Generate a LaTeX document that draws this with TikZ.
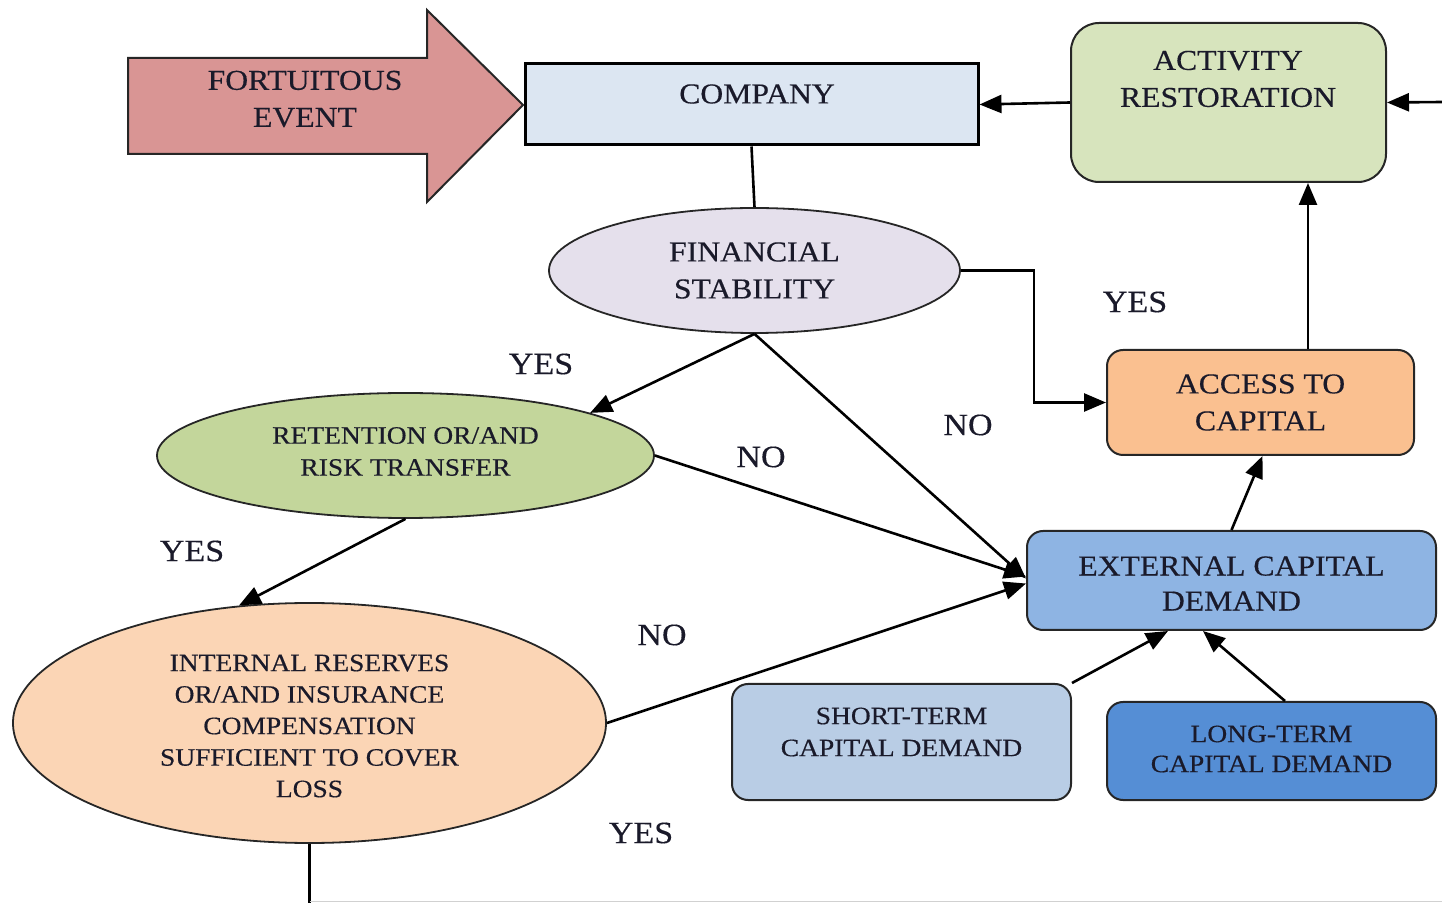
\documentclass[tikz,border=0pt]{standalone}
\usepackage{fontspec}
\setmainfont{Liberation Serif}[FakeStretch=1.1,FakeBold=0.4]
\usetikzlibrary{shapes.geometric,arrows.meta,calc}
\definecolor{fortc}{HTML}{D99594}
\definecolor{compc}{HTML}{DCE6F2}
\definecolor{actc}{HTML}{D7E4BD}
\definecolor{fsc}{HTML}{E5E0EC}
\definecolor{accc}{HTML}{FAC090}
\definecolor{retc}{HTML}{C3D69B}
\definecolor{intc}{HTML}{FBD5B5}
\definecolor{extc}{HTML}{8EB4E3}
\definecolor{stc}{HTML}{B9CDE5}
\definecolor{ltc}{HTML}{558ED5}
\definecolor{txtc}{HTML}{1A1A2A}
\begin{document}
\begin{tikzpicture}[x=0.5pt,y=-0.5pt,
  arr/.style={line width=1.3pt,-{Triangle[length=11pt,width=9pt]}},
  ln/.style={line width=1.3pt},
  rbox/.style={draw=black!85,line width=1pt,rounded corners=8pt,inner sep=0pt},
  ell/.style={ellipse,draw=black!85,line width=0.9pt,inner sep=0pt},
  big/.style={font=\fontsize{14.4}{18.5}\selectfont,align=center,text=txtc},
  small/.style={font=\fontsize{12.5}{16}\selectfont,align=center,text=txtc},
  lbl/.style={font=\fontsize{15.5}{18}\selectfont,text=txtc}]
\useasboundingbox (0,0) rectangle (1442,903);

% fortuitous event arrow
\draw[fill=fortc,draw=black!85,line width=1pt]
  (128,58) -- (427,58) -- (427,10) -- (523,105) -- (427,202) -- (427,154) -- (128,154) -- cycle;
\node[big] (fortt) at (305,99) {FORTUITOUS\\EVENT};

% boxes
\node[draw=black,line width=1.5pt,fill=compc,minimum width=226.5pt,minimum height=40.5pt,inner sep=0pt] (comp) at (751.5,104.5) {};
\node[big] (compt) at (757,94) {COMPANY};

\node[rbox,rounded corners=14pt,fill=actc,minimum width=157.5pt,minimum height=79.5pt] (act) at (1228.5,102.5) {};
\node[big] (actt) at (1228,79) {ACTIVITY\\RESTORATION};

\node[ell,fill=fsc,minimum width=205.5pt,minimum height=62.5pt,big] (fs) at (754.5,270.5) {FINANCIAL\\STABILITY};

\node[rbox,fill=accc,minimum width=153.5pt,minimum height=52.5pt,big] (acc) at (1260.5,402.5) {ACCESS TO\\CAPITAL};

\node[ell,fill=retc,minimum width=248.5pt,minimum height=62.5pt] (ret) at (405.5,455.5) {};
\node[small] (rett) at (405.5,451.5) {RETENTION OR/AND\\RISK TRANSFER};

\node[ell,fill=intc,minimum width=296.5pt,minimum height=120pt] (int) at (309.5,723) {};
\node[small,font=\fontsize{12.5}{15.75}\selectfont] (intt) at (309.5,726) {INTERNAL RESERVES\\OR/AND INSURANCE\\COMPENSATION\\SUFFICIENT TO COVER\\LOSS};

\node[rbox,fill=extc,minimum width=204.5pt,minimum height=49.5pt] (ext) at (1231.5,580.5) {};
\node[big,font=\fontsize{14.4}{17.5}\selectfont] (extt) at (1231.5,583.5) {EXTERNAL CAPITAL\\DEMAND};

\node[rbox,fill=stc,minimum width=169.5pt,minimum height=58pt] (st) at (901.5,742) {};
\node[small] (stt) at (901.5,732) {SHORT-TERM\\CAPITAL DEMAND};

\node[rbox,fill=ltc,minimum width=164.5pt,minimum height=49pt] (lt) at (1271.5,751) {};
\node[small,font=\fontsize{12.5}{15}\selectfont] (ltt) at (1271.5,749) {LONG-TERM\\CAPITAL DEMAND};

% coordinates
\coordinate (rin) at (1442,102);
\coordinate (rb) at (1442,901.5);

% connectors
\draw[arr] (act.west) -- (comp.east);
\draw[arr] (rin) -- (act.east);
\draw[ln] (comp.south) -- (fs.north);
\draw[arr] (fs.east) -- ++(73,0) |- (acc.west);
\draw[arr] ([xshift=23.75pt]acc.north) -- ([xshift=23.75pt]acc.north |- act.south);
\draw[arr] (fs.south) -- (ret.13);
\draw[arr] (fs.south) -- ([yshift=1pt]ext.west);
\draw[arr] (ret.east) -- ([yshift=2pt]ext.west);
\draw[arr] (int.east) -- ([yshift=-1.5pt]ext.west);
\draw[arr] (ret.south) -- (int.121);
\draw[ln] (int.south) -- (int.south |- 0,903);
\draw[black!18,line width=0.7pt] (int.south |- rb) -- (rb);
\draw[arr] (ext.north) -- ([xshift=1pt]acc.south);
\draw[arr] (st.north east) -- ([xshift=-31.75pt]ext.south);
\draw[arr] ([xshift=6.75pt]lt.north) -- ([xshift=-14.25pt]ext.south);

% labels
\node[lbl] (l1) at (1135,302) {YES};
\node[lbl] (l2) at (541,364) {YES};
\node[lbl] (l3) at (968,425) {NO};
\node[lbl] (l4) at (761,457) {NO};
\node[lbl] (l5) at (192,551) {YES};
\node[lbl] (l6) at (662,635) {NO};
\node[lbl] (l7) at (641,833) {YES};
\end{tikzpicture}
\end{document}
